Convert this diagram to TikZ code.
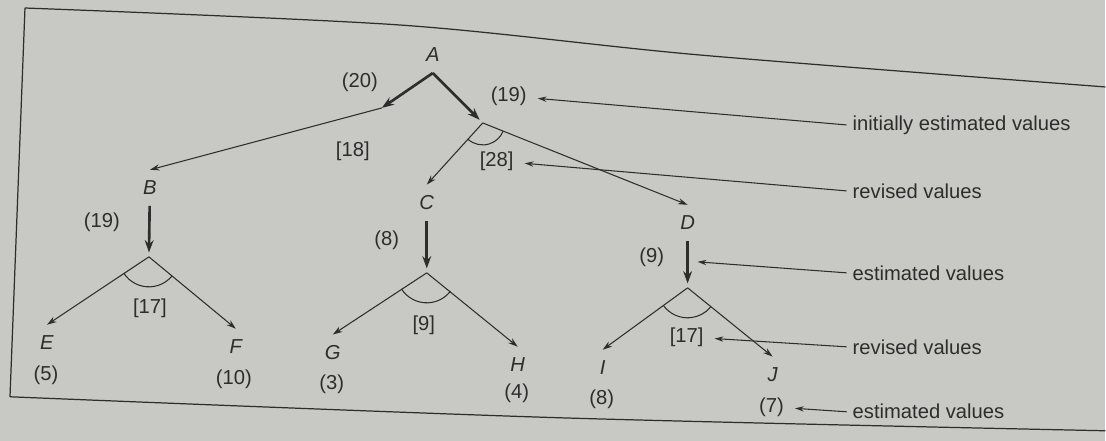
\documentclass[tikz,border=0pt]{standalone}
\usepackage{fontspec}
\setmainfont{Liberation Sans}
\usetikzlibrary{arrows.meta}
\definecolor{page}{RGB}{200,200,196}
\definecolor{ink}{RGB}{45,45,45}

\begin{document}
\begin{tikzpicture}[x=0.02cm,y=0.02cm,
    font=\fontsize{11.5}{13}\selectfont, color=ink,
    heavy/.style={line width=1.5pt,-{Stealth[length=7pt,width=5pt]},shorten >=2.5pt},
    link/.style={line width=0.6pt,-{Stealth[length=5.5pt,width=3.5pt]}},
    pointer/.style={line width=0.6pt,-{Stealth[length=5pt,width=3pt]}},
    andarc/.style={line width=0.6pt},
    frame/.style={line width=0.7pt},
    letter/.style={font=\fontsize{11.5}{13}\selectfont\itshape,outer sep=3pt},
    value/.style={outer sep=3pt},
    note/.style={anchor=west}]

  % --- the page, and the box round the figure ---
  \fill[page] (0,0) rectangle (1106,441);
  \draw[frame] plot[smooth] coordinates {(25,433) (400,416) (700,386) (1106,354)};
  \draw[frame] (25,433) -- (10,44);
  \draw[frame] plot[smooth] coordinates {(10,44) (560,23) (1106,10)};

  % --- the nodes of the graph ---
  \node[letter] (A) at (433,386) {A};
  \node[letter] (B) at (150,253) {B};
  \node[letter] (C) at (427,238) {C};
  \node[letter] (D) at (688,218) {D};
  \node[letter] (E) at ( 47, 98) {E};
  \node[letter] (F) at (236, 94) {F};
  \node[letter] (G) at (333, 88) {G};
  \node[letter] (H) at (518, 76) {H};
  \node[letter] (I) at (603, 73) {I};
  \node[letter] (J) at (773, 66) {J};

  % --- the values, estimated (..) and revised [..] ---
  \node[value] (pathB)   at (360,359) {(20)};
  \node[value] (pathCD)  at (509,345) {(19)};
  \node[value] (revB)    at (353,290) {[18]};
  \node[value] (revCD)   at (497,280) {[28]};
  \node[value] (estB)    at (102,219) {(19)};
  \node[value] (revBand) at (150,133) {[17]};
  \node[value] (estE)    at ( 46, 66) {(5)};
  \node[value] (estF)    at (234, 62) {(10)};
  \node[value] (estC)    at (387,201) {(8)};
  \node[value] (revCand) at (424,116) {[9]};
  \node[value] (estG)    at (332, 57) {(3)};
  \node[value] (estH)    at (517, 48) {(4)};
  \node[value] (estD)    at (652,184) {(9)};
  \node[value] (revDand) at (687,104) {[17]};
  \node[value] (estI)    at (602, 42) {(8)};
  \node[value] (estJ)    at (772, 34) {(7)};

  % --- the junctions ---
  \coordinate (bendB) at (382,333);
  \coordinate (andCD) at (483,318);
  \coordinate (andB)  at (149,184);
  \coordinate (andC)  at (427,168);
  \coordinate (andD)  at (688,153);
  \coordinate (shaftD) at (698,179);

  % --- from A: the OR choice between B and the pair C, D ---
  \draw[heavy,shorten >=0pt] (A.south) -- (bendB);
  \draw[link]  (bendB) -- (B.north);
  \draw[heavy] (A.south) -- (andCD);
  \draw[link]  (andCD) -- (C.north);
  \draw[link]  (andCD) -- (D.north);
  \draw[andarc] ([shift={(227.4:0.44cm)}]andCD) arc[start angle=227.4,end angle=338.2,radius=0.44cm];

  % --- the AND arcs under B, C and D ---
  \draw[heavy] (B) -- (andB);
  \draw[link]  (andB) -- (E.north);
  \draw[link]  (andB) -- (F.north);
  \draw[andarc] ([shift={(213.3:0.6cm)}]andB) arc[start angle=213.3,end angle=320.5,radius=0.6cm];

  \draw[heavy] (C) -- (andC);
  \draw[link]  (andC) -- (G.north);
  \draw[link]  (andC) -- (H.north);
  \draw[andarc] ([shift={(212.5:0.6cm)}]andC) arc[start angle=212.5,end angle=322.4,radius=0.6cm];

  \draw[heavy] (D) -- (andD);
  \draw[link]  (andD) -- (I.north);
  \draw[link]  (andD) -- (J.north);
  \draw[andarc] ([shift={(216.2:0.6cm)}]andD) arc[start angle=216.2,end angle=320.2,radius=0.6cm];

  % --- notes on the right ---
  \node[note] (noteInit) at (847,316) {initially estimated values};
  \node[note] (noteRev)  at (847,250) {revised values};
  \node[note] (noteEst)  at (847,168) {estimated values};
  \node[note] (noteRevB) at (847, 94) {revised values};
  \node[note] (noteEstB) at (847, 29) {estimated values};

  \draw[pointer] (noteInit.west) -- (pathCD);
  \draw[pointer] (noteRev.west)  -- (revCD);
  \draw[pointer] (noteEst.west)  -- (shaftD);
  \draw[pointer] (noteRevB.west) -- (revDand);
  \draw[pointer] (noteEstB.west) -- (estJ);
\end{tikzpicture}
\end{document}
